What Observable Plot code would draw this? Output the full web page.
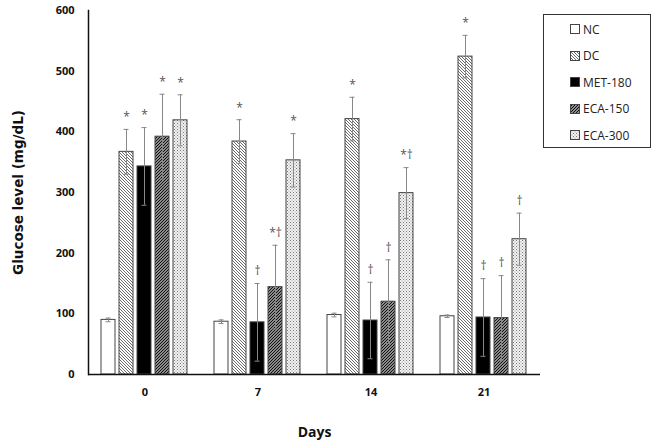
<!DOCTYPE html>
<html><head><meta charset="utf-8">
<script src="https://cdn.jsdelivr.net/npm/d3@7"></script>
<script src="https://cdn.jsdelivr.net/npm/@observablehq/plot@0.6"></script>
<style>
body{margin:0;background:#fff;}
#wrap{position:relative;width:663px;height:443px;font-family:"Open Sans",sans-serif;}
#legend{position:absolute;left:543px;top:14px;width:108px;height:134px;border:1.3px solid #333;background:#fff;box-sizing:border-box;}
.item{position:absolute;left:26px;height:16px;display:flex;align-items:center;font-size:12px;color:#222;}
.item svg{margin-right:3px;}
g[aria-label="fx-axis label"]{font-size:14px;}
g[aria-label="y-axis label"]{font-size:13.5px;font-family:"DejaVu Sans",sans-serif;}
</style></head><body><div id="wrap"></div>
<script>
const days = ["0", "7", "14", "21"];
const groups = ["NC", "DC", "MET-180", "ECA-150", "ECA-300"];
// mean glucose level per group, by day
const ncMean     = [90, 87, 98, 96];
const dcMean     = [367, 384, 421, 524];
const metMean    = [343, 86, 89, 94];
const eca150Mean = [392, 144, 120, 93];
const eca300Mean = [419, 353, 299, 223];
// error (SD) per group, by day
const ncErr     = [3, 3, 3, 2];
const dcErr     = [37, 36, 36, 35];
const metErr    = [64, 64, 63, 64];
const eca150Err = [70, 69, 69, 70];
const eca300Err = [42, 44, 42, 43];
// significance marks
const ncSig     = ["", "", "", ""];
const dcSig     = ["*", "*", "*", "*"];
const metSig    = ["*", "†", "†", "†"];
const eca150Sig = ["*", "*†", "†", "†"];
const eca300Sig = ["*", "*", "*†", "†"];
const yTicks = [0, 100, 200, 300, 400, 500, 600];

const means = [ncMean, dcMean, metMean, eca150Mean, eca300Mean];
const errs = [ncErr, dcErr, metErr, eca150Err, eca300Err];
const sigs = [ncSig, dcSig, metSig, eca150Sig, eca300Sig];
const fills = {"NC": "white", "DC": "url(#pDC)", "MET-180": "black", "ECA-150": "url(#pE150)", "ECA-300": "url(#pE300)"};

const rows = [];
groups.forEach((g, i) => days.forEach((d, j) => rows.push({day: d, group: g, value: means[i][j], err: errs[i][j], sig: sigs[i][j]})));

const chart = Plot.plot({
  width: 663, height: 443,
  marginLeft: 88, marginRight: 123, marginTop: 10, marginBottom: 69,
  style: {fontFamily: "Open Sans, sans-serif", background: "white", color: "#111"},
  fx: {domain: days, padding: 0},
  x: {domain: groups, paddingInner: 0.2, paddingOuter: 0.6, axis: null},
  y: {domain: [0, 600]},
  marks: [
    ...groups.map(g => Plot.barY(rows.filter(r => r.group === g), {fx: "day", x: "group", y: "value", fill: fills[g], stroke: "#444", strokeWidth: 1})),
    Plot.ruleX(rows, {fx: "day", x: "group", y1: r => r.value - r.err, y2: r => r.value + r.err, stroke: "#888", strokeWidth: 1}),
    Plot.tickY(rows, {fx: "day", x: "group", y: r => r.value + r.err, stroke: "#888", insetLeft: 4.5, insetRight: 4.5}),
    Plot.tickY(rows, {fx: "day", x: "group", y: r => r.value - r.err, stroke: "#888", insetLeft: 4.5, insetRight: 4.5}),
    Plot.text(rows, {fx: "day", x: "group", y: r => r.value + r.err, text: "sig", dy: -12, fill: "#555", fontSize: 12}),
    Plot.ruleY([0], {stroke: "#111", strokeWidth: 1.5}),
    Plot.frame({anchor: "left", facetAnchor: "left", stroke: "#111", strokeWidth: 1.5}),
    Plot.axisY({ticks: yTicks, tickSize: 0, tickPadding: 14, fontWeight: "bold", fontSize: 11, label: "Glucose level (mg/dL)", labelAnchor: "center", labelOffset: 75, labelArrow: "none"}),
    Plot.axisFx({anchor: "bottom", tickSize: 0, tickPadding: 14, fontWeight: "bold", fontSize: 11, label: "Days", labelAnchor: "center", labelOffset: 62, labelArrow: "none"})
  ]
});

// patterns
const svg = d3.select(chart);
const defs = svg.insert("defs", ":first-child");
const p1 = defs.append("pattern").attr("id", "pDC").attr("patternUnits", "userSpaceOnUse").attr("width", 3).attr("height", 3);
p1.append("rect").attr("width", 3).attr("height", 3).attr("fill", "white");
p1.append("path").attr("d", "M0,0L3,3M-1,2L1,4M2,-1L4,1").attr("stroke", "#444").attr("stroke-width", 0.8);
const p2 = defs.append("pattern").attr("id", "pE150").attr("patternUnits", "userSpaceOnUse").attr("width", 3).attr("height", 3);
p2.append("rect").attr("width", 3).attr("height", 3).attr("fill", "white");
p2.append("path").attr("d", "M0,3L3,0M-1,1L1,-1M2,4L4,2").attr("stroke", "#111").attr("stroke-width", 1.4);
const p3 = defs.append("pattern").attr("id", "pE300").attr("patternUnits", "userSpaceOnUse").attr("width", 3).attr("height", 3);
p3.append("rect").attr("width", 3).attr("height", 3).attr("fill", "#f2f2f2");
p3.append("rect").attr("width", 1).attr("height", 1).attr("fill", "#777");
p3.append("rect").attr("x", 1.5).attr("y", 1.5).attr("width", 1).attr("height", 1).attr("fill", "#999");

const wrap = document.getElementById("wrap");
wrap.appendChild(chart);

// legend
const legend = document.createElement("div");
legend.id = "legend";
groups.forEach((g, i) => {
  const item = document.createElement("div");
  item.className = "item";
  item.style.top = (6 + i * 26.6) + "px";
  item.innerHTML = `<svg width="10" height="10"><rect x="0.5" y="0.5" width="9" height="9" fill="${fills[g]}" stroke="#444"/></svg><span>${g}</span>`;
  legend.appendChild(item);
});
wrap.appendChild(legend);
</script></body></html>
